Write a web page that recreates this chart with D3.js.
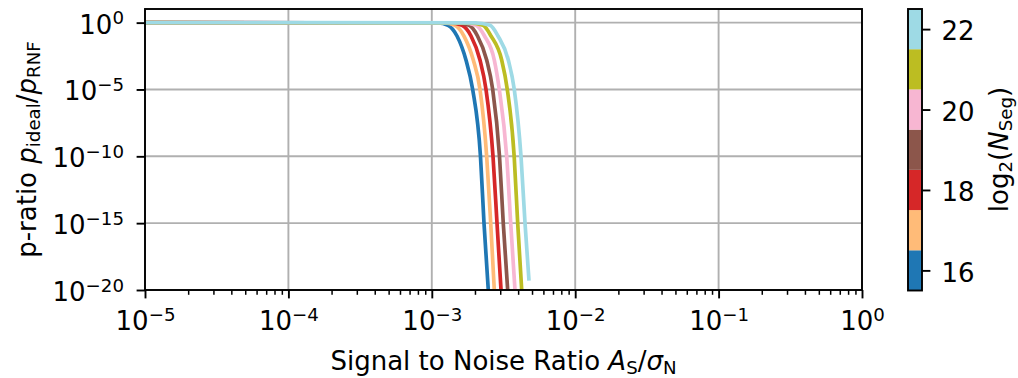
<!DOCTYPE html>
<html>
<head>
<meta charset="utf-8">
<script src="https://cdn.jsdelivr.net/npm/d3@7"></script>
<style>
  body { margin: 0; background: #fff; }
  svg { font-family: "DejaVu Sans", sans-serif; }
</style>
</head>
<body>
<svg id="chart" width="1018" height="378"></svg>
<script>
// values
const logNSeg = [16, 17, 18, 19, 20, 21, 22];
const colors = ["#1f77b4", "#ffbb78", "#d62728", "#8c564b", "#f7b6d2", "#bcbd22", "#9edae5"];

// p-ratio levels shared by every curve (last point of each curve is in endP)
const pLevels = [1, 0.955, 0.63, 0.1, 1.6e-3, 1e-5, 1e-10, 1e-15];
const endP = [1e-20, 1e-20, 1e-20, 1e-20, 1e-20, 1e-20, 5e-20];

// signal to noise ratio at each p level, one array per log2(N_Seg)
const snr16 = [1e-5, 1.104e-3, 1.297e-3, 1.499e-3, 1.731e-3, 1.928e-3, 2.185e-3, 2.312e-3, 2.477e-3];
const snr17 = [1e-5, 1.217e-3, 1.451e-3, 1.677e-3, 1.947e-3, 2.168e-3, 2.414e-3, 2.575e-3, 2.728e-3];
const snr18 = [1e-5, 1.339e-3, 1.624e-3, 1.877e-3, 2.168e-3, 2.388e-3, 2.672e-3, 2.849e-3, 3.039e-3];
const snr19 = [1e-5, 1.499e-3, 1.817e-3, 2.083e-3, 2.414e-3, 2.659e-3, 2.966e-3, 3.150e-3, 3.382e-3];
const snr20 = [1e-5, 1.651e-3, 2.033e-3, 2.331e-3, 2.728e-3, 2.956e-3, 3.328e-3, 3.550e-3, 3.803e-3];
const snr21 = [1e-5, 1.817e-3, 2.275e-3, 2.588e-3, 3.071e-3, 3.361e-3, 3.754e-3, 3.972e-3, 4.236e-3];
const snr22 = [1e-5, 2.001e-3, 2.546e-3, 2.895e-3, 3.415e-3, 3.760e-3, 4.188e-3, 4.467e-3, 4.762e-3];
const snrSeries = [snr16, snr17, snr18, snr19, snr20, snr21, snr22];

const xTicks = [1e-5, 1e-4, 1e-3, 1e-2, 1e-1, 1];
const yTicks = [1, 1e-5, 1e-10, 1e-15, 1e-20];
const cbarTicks = [16, 18, 20, 22];

const svg = d3.select("#chart");
const plotL = 145, plotR = 862, plotT = 9, plotB = 290;
const fontSize = 26, supSize = 18.2;

const x = d3.scaleLog().domain([1e-5, 1]).range([plotL, plotR]);
const y = d3.scaleLog().domain([1e-20, Math.pow(10, 1.02)]).range([plotB, plotT]);

// grid
const grid = svg.append("g").attr("stroke", "#b0b0b0").attr("stroke-width", 1.9);
grid.selectAll(".gx").data(xTicks).enter().append("line")
  .attr("x1", d => x(d)).attr("x2", d => x(d)).attr("y1", plotT).attr("y2", plotB);
grid.selectAll(".gy").data(yTicks).enter().append("line")
  .attr("x1", plotL).attr("x2", plotR).attr("y1", d => y(d)).attr("y2", d => y(d));

// curves
svg.append("clipPath").attr("id", "clip").append("rect")
  .attr("x", plotL).attr("y", plotT).attr("width", plotR - plotL).attr("height", plotB - plotT);

const line = d3.line()
  .x(d => x(d[0])).y(d => y(d[1]))
  .curve(d3.curveMonotoneX);

snrSeries.forEach((s, k) => {
  const pts = s.map((v, i) => [v, i < pLevels.length ? pLevels[i] : endP[k]]);
  svg.append("path")
    .attr("clip-path", "url(#clip)")
    .attr("d", line(pts))
    .attr("fill", "none")
    .attr("stroke", colors[k])
    .attr("stroke-width", 3.7)
    .attr("stroke-linecap", "butt");
});

// tick label as 10^n
function powLabel(sel, d) {
  const e = Math.round(Math.log10(d));
  const t = d3.select(sel);
  t.text(null);
  t.append("tspan").text("10");
  t.append("tspan").attr("dy", -9.5).attr("font-size", supSize).text(String(e).replace("-", "\u2212"));
}

// x axis
const minorX = [];
for (let p = -5; p < 0; p++) for (let m = 2; m < 10; m++) minorX.push(m * Math.pow(10, p));

const gx = svg.append("g").attr("transform", `translate(0,${plotB})`);
gx.call(d3.axisBottom(x).tickValues(xTicks).tickSize(8.4).tickFormat(d => d));
gx.selectAll(".tick text")
  .attr("y", 40).attr("dy", null)
  .attr("font-size", fontSize).attr("fill", "#000").attr("font-family", "DejaVu Sans")
  .each(function(d) { powLabel(this, d); });
const gxMinor = svg.append("g").attr("transform", `translate(0,${plotB})`);
gxMinor.call(d3.axisBottom(x).tickValues(minorX).tickSize(4.8).tickFormat(""));
gxMinor.selectAll("text").remove();
svg.selectAll(".domain").remove();
gx.selectAll("line").attr("stroke", "#000").attr("stroke-width", 1.9);
gxMinor.selectAll("line").attr("stroke", "#000").attr("stroke-width", 1.5);

// y axis
const gy = svg.append("g").attr("transform", `translate(${plotL},0)`);
gy.call(d3.axisLeft(y).tickValues(yTicks).tickSize(8.4).tickFormat(d => d));
gy.selectAll(".domain").remove();
gy.selectAll("line").attr("stroke", "#000").attr("stroke-width", 1.9);
gy.selectAll(".tick text")
  .attr("x", -21).attr("y", 10.5).attr("dy", null)
  .attr("font-size", fontSize).attr("fill", "#000").attr("font-family", "DejaVu Sans")
  .each(function(d) { powLabel(this, d); });

// frame
svg.append("rect")
  .attr("x", plotL).attr("y", plotT).attr("width", plotR - plotL).attr("height", plotB - plotT)
  .attr("fill", "none").attr("stroke", "#000").attr("stroke-width", 1.9);

// axis titles
const xt = svg.append("text")
  .attr("x", (plotL + plotR) / 2).attr("y", 369.5)
  .attr("text-anchor", "middle").attr("font-size", fontSize);
xt.append("tspan").text("Signal to Noise Ratio ");
xt.append("tspan").attr("font-style", "italic").text("A");
xt.append("tspan").attr("font-size", supSize).attr("dy", 4).text("S");
xt.append("tspan").attr("dy", -4).text("/");
xt.append("tspan").attr("font-style", "italic").text("\u03c3");
xt.append("tspan").attr("font-size", supSize).attr("dy", 4).text("N");

const yt = svg.append("text")
  .attr("transform", `translate(36,${(plotT + plotB) / 2}) rotate(-90)`)
  .attr("text-anchor", "middle").attr("font-size", fontSize);
yt.append("tspan").text("p-ratio ");
yt.append("tspan").attr("font-style", "italic").text("p");
yt.append("tspan").attr("font-size", supSize).attr("dy", 4).text("ideal");
yt.append("tspan").attr("dy", -4).text("/");
yt.append("tspan").attr("font-style", "italic").text("p");
yt.append("tspan").attr("font-size", supSize).attr("dy", 4).text("RNF");

// colorbar
const cbLeft = 908, cbRight = 922;
const cbY = d3.scaleLinear().domain([15.5, 22.5]).range([290.5, 9]);
svg.append("g").selectAll("rect").data(logNSeg).enter().append("rect")
  .attr("x", cbLeft).attr("width", cbRight - cbLeft)
  .attr("y", d => cbY(d + 0.5)).attr("height", d => cbY(d - 0.5) - cbY(d + 0.5))
  .attr("fill", (d, i) => colors[i]);
svg.append("rect")
  .attr("x", cbLeft).attr("y", cbY(22.5)).attr("width", cbRight - cbLeft).attr("height", cbY(15.5) - cbY(22.5))
  .attr("fill", "none").attr("stroke", "#000").attr("stroke-width", 1.9);

const gc = svg.append("g").attr("transform", `translate(${cbRight},0)`);
gc.call(d3.axisRight(cbY).tickValues(cbarTicks).tickSize(8.4).tickFormat(d3.format("d")));
gc.selectAll(".domain").remove();
gc.selectAll("line").attr("stroke", "#000").attr("stroke-width", 1.9);
gc.selectAll(".tick text")
  .attr("x", 19.5).attr("y", 10.7).attr("dy", null)
  .attr("font-size", fontSize).attr("fill", "#000").attr("font-family", "DejaVu Sans");

const ct = svg.append("text")
  .attr("transform", `translate(1008,${(plotT + plotB) / 2}) rotate(-90)`)
  .attr("text-anchor", "middle").attr("font-size", fontSize);
ct.append("tspan").text("log");
ct.append("tspan").attr("font-size", supSize).attr("dy", 4).text("2");
ct.append("tspan").attr("dy", -4).text("(");
ct.append("tspan").attr("font-style", "italic").text("N");
ct.append("tspan").attr("font-size", supSize).attr("dy", 4).text("Seg");
ct.append("tspan").attr("dy", -4).text(")");
</script>
</body>
</html>
